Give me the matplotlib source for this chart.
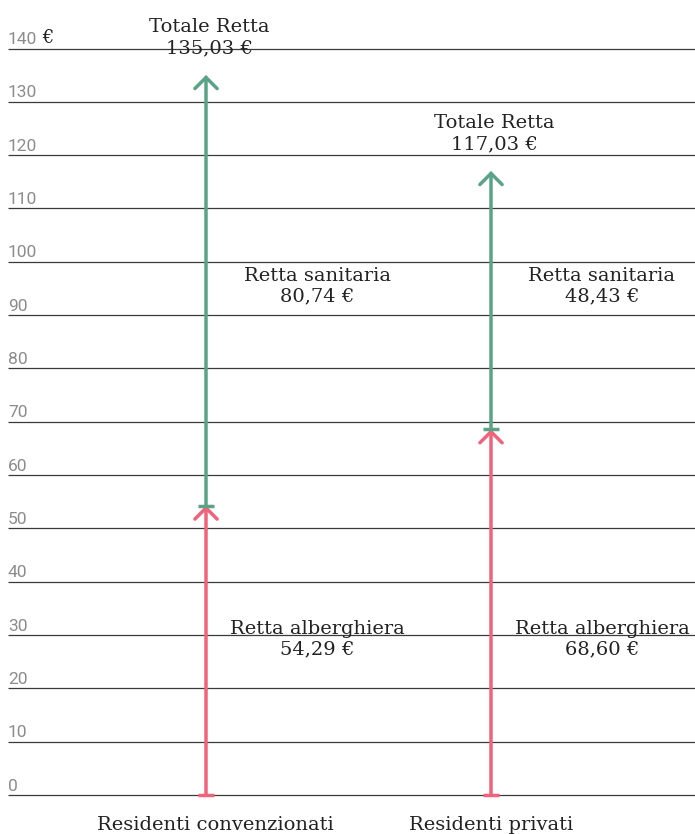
import matplotlib
matplotlib.use("Agg")
import matplotlib.pyplot as plt
from matplotlib import transforms

categories = ["Residenti convenzionati", "Residenti privati"]
retta_alberghiera = [54.29, 68.60]
retta_sanitaria = [80.74, 48.43]
totale = [135.03, 117.03]
y_ticks = list(range(0, 141, 10))

PINK = "#F0647B"
GREEN = "#5BA386"
GRID = "#3a3a3a"
TEXT = "#222222"
TICK = "#8c8c8c"
SERIF = "DejaVu Serif"
FS = 14


def euro(v):
    return f"{v:.2f}".replace(".", ",") + " €"


fig = plt.figure(figsize=(6.95, 8.34), dpi=100)
ax = fig.add_axes([0, 0, 1, 1])
W, H = 695, 834
# pixel layout: value 0 sits 795 px from the top, value 140 at 48.5 px
y0_px, y140_px = 795, 48.5
unit = (y0_px - y140_px) / 140.0
ax.set_ylim(-(H - y0_px) / unit, 140 + y140_px / unit)
x0_px, x1_px = 206, 491
xs = (x1_px - x0_px)
ax.set_xlim(-x0_px / xs, 1 + (W - x1_px) / xs)
ax.axis("off")

grid_left = (8 - x0_px) / xs
grid_right = 1 + (W - x1_px) / xs
for t in y_ticks:
    ax.plot([grid_left, grid_right], [t, t], color=GRID, lw=0.9,
            solid_capstyle="butt", zorder=1)
    off = transforms.offset_copy(ax.transData, fig=fig, x=0, y=1.0, units="points")
    lbl = ax.text(grid_left, t, str(t), transform=off, ha="left", va="bottom",
                  fontsize=12.5, color=TICK, family="Roboto", fontweight="normal")
    if t == 140:
        ax.annotate(" €", xycoords=lbl, xy=(1, 0), va="bottom", ha="left",
                    fontsize=13, color=TEXT, family=SERIF)

arrow_style = "->,head_length=0.8,head_width=0.8"
tee = 8 / xs
for i in range(len(categories)):
    a = retta_alberghiera[i]
    tot = a + retta_sanitaria[i]
    for lo, hi, col in ((0, a, PINK), (a, tot, GREEN)):
        ax.annotate("", xy=(i, hi), xytext=(i, lo),
                    arrowprops=dict(arrowstyle=arrow_style, color=col, lw=2.5,
                                    shrinkA=0, shrinkB=0, joinstyle="miter"),
                    zorder=3)
        ax.plot([i - tee, i + tee], [lo, lo], color=col, lw=2.5,
                solid_capstyle="butt", zorder=3)

    lx = i + 111 / xs
    ax.text(lx, (795 - 639) / unit, "Retta alberghiera\n" + euro(a),
            ha="center", va="center", fontsize=FS, color=TEXT, family=SERIF,
            linespacing=1.2, zorder=4)
    ax.text(lx, (795 - 286) / unit, "Retta sanitaria\n" + euro(retta_sanitaria[i]),
            ha="center", va="center", fontsize=FS, color=TEXT, family=SERIF,
            linespacing=1.2, zorder=4)
    ax.text(i + 3 / xs, totale[i] + 7.0, "Totale Retta\n" + euro(totale[i]),
            ha="center", va="center", fontsize=FS, color=TEXT, family=SERIF,
            linespacing=1.2, zorder=4)
    ax.text(i + (9 if i == 0 else 0) / xs, -(825 - 795) / unit, categories[i],
            ha="center", va="center", fontsize=FS, color=TEXT, family=SERIF,
            zorder=4)

fig.savefig("out.png", dpi=100)
